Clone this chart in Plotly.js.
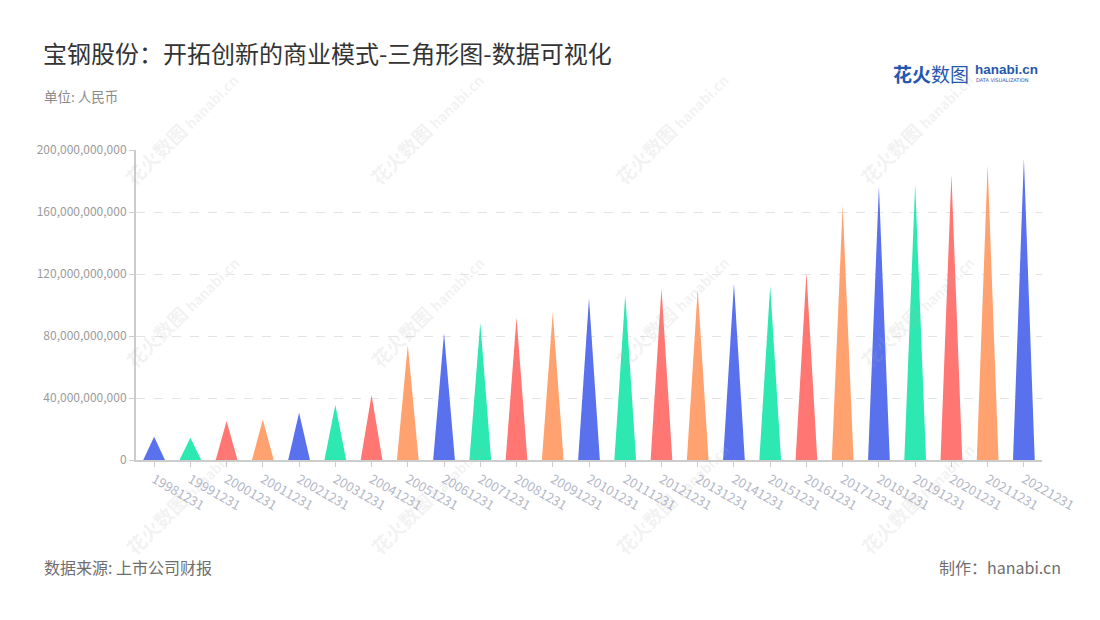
<!DOCTYPE html>
<html>
<head>
<meta charset="utf-8">
<script src="https://cdn.plot.ly/plotly-3.0.1.min.js"></script>
<style>
html,body{margin:0;padding:0;background:#fff;}
#chart{width:1100px;height:620px;}
</style>
</head>
<body>
<div id="chart"></div>
<script>
const categories = ['19981231','19991231','20001231','20011231','20021231','20031231','20041231','20051231','20061231','20071231','20081231','20091231','20101231','20111231','20121231','20131231','20141231','20151231','20161231','20171231','20181231','20191231','20201231','20211231','20221231'];
const values = [15.0e9, 14.4e9, 25.2e9, 26.2e9, 30.5e9, 35.5e9, 41.9e9, 74.2e9, 81.7e9, 88.6e9, 92.0e9, 95.1e9, 104.3e9, 106.5e9, 110.8e9, 110.1e9, 114.0e9, 112.5e9, 120.9e9, 164.5e9, 176.8e9, 178.1e9, 184.3e9, 190.8e9, 194.6e9];
const palette = ['#5a71ed', '#2ee8b1', '#ff7672', '#ffa26f'];
const yTicks = [0, 40e9, 80e9, 120e9, 160e9, 200e9];

const FONT = '"Noto Sans CJK SC", "Noto Sans", sans-serif';
const halfWidth = 0.3;

const traces = categories.map((c, i) => ({
  type: 'scatter',
  mode: 'lines',
  x: [i - halfWidth, i, i + halfWidth],
  y: [0, values[i], 0],
  fill: 'toself',
  fillcolor: palette[i % palette.length],
  line: {width: 0, color: palette[i % palette.length]},
  name: c,
  hoveron: 'fills',
  showlegend: false
}));

function pxAnno(text, x, y, opts) {
  return Object.assign({
    text: text, xref: 'paper', yref: 'paper', showarrow: false,
    borderpad: 0, borderwidth: 0,
    x: (x - 136) / (1042.5 - 136), y: (460 - y) / (460 - 150)
  }, opts);
}

const annos = [];
// watermarks
const wmX = [182, 427, 672, 917];
const wmY = [128, 310, 497];
wmY.forEach(yy => wmX.forEach(xx => {
  annos.push(pxAnno('<b>花火数图</b> <span style="font-size:14px"><b>hanabi.cn</b></span>', xx, yy, {
    textangle: -45, font: {family: FONT, size: 19, color: 'rgba(175,175,175,0.17)'},
    xanchor: 'center', yanchor: 'middle'
  }));
}));

annos.push(pxAnno('单位: 人民币', 44, 96, {xanchor: 'left', yanchor: 'middle',
  font: {family: FONT, size: 13.5, color: '#8a8a8a'}}));
annos.push(pxAnno('数据来源: 上市公司财报', 44, 567, {xanchor: 'left', yanchor: 'middle',
  font: {family: FONT, size: 16, color: '#6e6e6e'}}));
annos.push(pxAnno('制作：hanabi.cn', 1062, 567, {xanchor: 'right', yanchor: 'middle',
  font: {family: FONT, size: 16, color: '#6e6e6e'}}));
// logo
annos.push(pxAnno('<b>花火</b>数图', 893, 73, {xanchor: 'left', yanchor: 'middle',
  font: {family: FONT, size: 19, color: '#2657b0'}}));
annos.push(pxAnno('<b>hanabi.cn</b>', 975, 69, {xanchor: 'left', yanchor: 'middle',
  font: {family: '"Liberation Sans", sans-serif', size: 13.5, color: '#2657b0'}}));
annos.push(pxAnno('DATA VISUALIZATION', 976, 80, {xanchor: 'left', yanchor: 'middle',
  font: {family: '"DejaVu Sans", sans-serif', size: 5, color: '#2657b0'}}));

const layout = {
  width: 1100, height: 620,
  paper_bgcolor: '#ffffff', plot_bgcolor: '#ffffff',
  margin: {l: 136, r: 57.5, t: 150, b: 160, pad: 0},
  title: {
    text: '宝钢股份：开拓创新的商业模式-三角形图-数据可视化',
    x: 43 / 1100, xanchor: 'left', xref: 'container',
    y: 1 - 55 / 620, yanchor: 'middle', yref: 'container',
    font: {family: FONT, size: 24, color: '#333333'}
  },
  xaxis: {
    range: [-0.5, categories.length - 0.5],
    tickmode: 'array',
    tickvals: categories.map((c, i) => i),
    ticktext: categories,
    tickangle: 30,
    tickfont: {family: FONT, size: 13, color: '#b3b7c6'},
    showline: true, linecolor: '#cccccc', linewidth: 2,
    ticks: 'outside', ticklen: 5, tickcolor: '#cccccc', tickwidth: 1,
    showgrid: false, zeroline: false, fixedrange: true
  },
  yaxis: {
    range: [0, 200e9],
    tickmode: 'array',
    tickvals: yTicks,
    tickformat: ',d',
    tickfont: {family: FONT, size: 12, color: '#9a9a9a'},
    showline: true, linecolor: '#cccccc', linewidth: 2,
    ticks: 'outside', ticklen: 5, tickcolor: '#cccccc', tickwidth: 1,
    showgrid: true, gridcolor: '#e3e3e3', griddash: 'dash', gridwidth: 1,
    zeroline: false, fixedrange: true
  },
  annotations: annos,
  hovermode: false
};

Plotly.newPlot('chart', traces, layout, {displayModeBar: false, staticPlot: true});
</script>
</body>
</html>
